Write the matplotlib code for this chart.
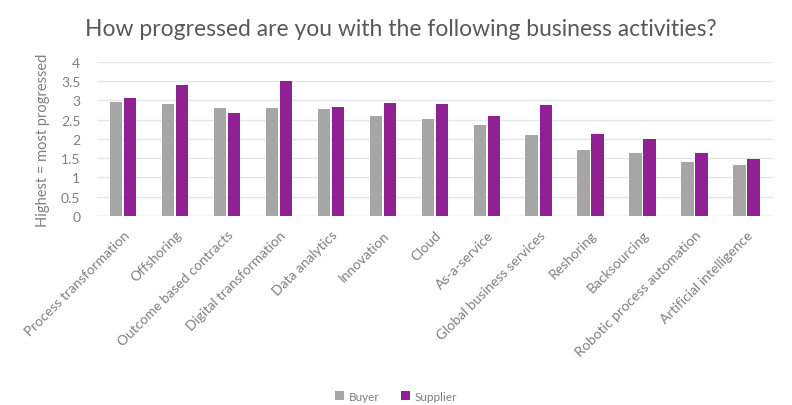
import numpy as np
import matplotlib
matplotlib.use("Agg")
import matplotlib.pyplot as plt

plt.rcParams['font.family'] = ['Lato', 'DejaVu Sans']

categories = ["Process transformation", "Offshoring", "Outcome based contracts",
              "Digital transformation", "Data analytics", "Innovation", "Cloud",
              "As-a-service", "Global business services", "Reshoring",
              "Backsourcing", "Robotic process automation", "Artificial intelligence"]
buyer = [2.95, 2.90, 2.81, 2.81, 2.77, 2.60, 2.51, 2.37, 2.11, 1.70, 1.63, 1.41, 1.31]
supplier = [3.06, 3.41, 2.68, 3.50, 2.83, 2.94, 2.90, 2.60, 2.89, 2.13, 2.00, 1.63, 1.48]
yticks = [0, 0.5, 1, 1.5, 2, 2.5, 3, 3.5, 4]
ytick_labels = ["0", "0.5", "1", "1.5", "2", "2.5", "3", "3.5", "4"]

grey = "#a6a6a6"
purple = "#8f2192"
text_col = "#7f7f7f"

fig = plt.figure(figsize=(7.92, 4.06), dpi=100)
ax = fig.add_axes([0.1225, 0.466, 0.853, 0.379])

x = np.arange(len(categories))
w = 0.24
ax.bar(x - w / 2 - 0.015, buyer, w, color=grey, label="Buyer", zorder=2)
ax.bar(x + w / 2 + 0.015, supplier, w, color=purple, label="Supplier", zorder=2)

ax.set_xlim(-0.5, len(categories) - 0.5)
ax.set_ylim(0, 4)
ax.set_yticks(yticks)
ax.set_yticklabels(ytick_labels)
ax.set_xticks(x)
ax.set_xticklabels(categories, rotation=45, ha="right", rotation_mode="anchor")
ax.yaxis.grid(True, color="#e4e8ee", linewidth=1, zorder=0)
ax.tick_params(axis="both", length=0, colors=text_col)
ax.tick_params(axis="x", labelsize=10, pad=9)
ax.tick_params(axis="y", labelsize=10, pad=12)
for s in ax.spines.values():
    s.set_visible(False)
ax.axhline(0, color="#d9d9d9", linewidth=1, zorder=1)

ax.set_ylabel("Highest = most progressed", color=text_col, fontsize=10.5, labelpad=8)
fig.text(0.107, 0.928, "How progressed are you with the following business activities?",
         fontsize=16.5, color="#595959", ha="left", va="center")

fig.legend(loc="center", bbox_to_anchor=(0.5, 0.022), ncol=2, frameon=False,
           fontsize=8.5, handlelength=0.8, handleheight=0.8, handletextpad=0.4,
           columnspacing=1.8, labelcolor=text_col)

fig.savefig("out.png", dpi=100)
